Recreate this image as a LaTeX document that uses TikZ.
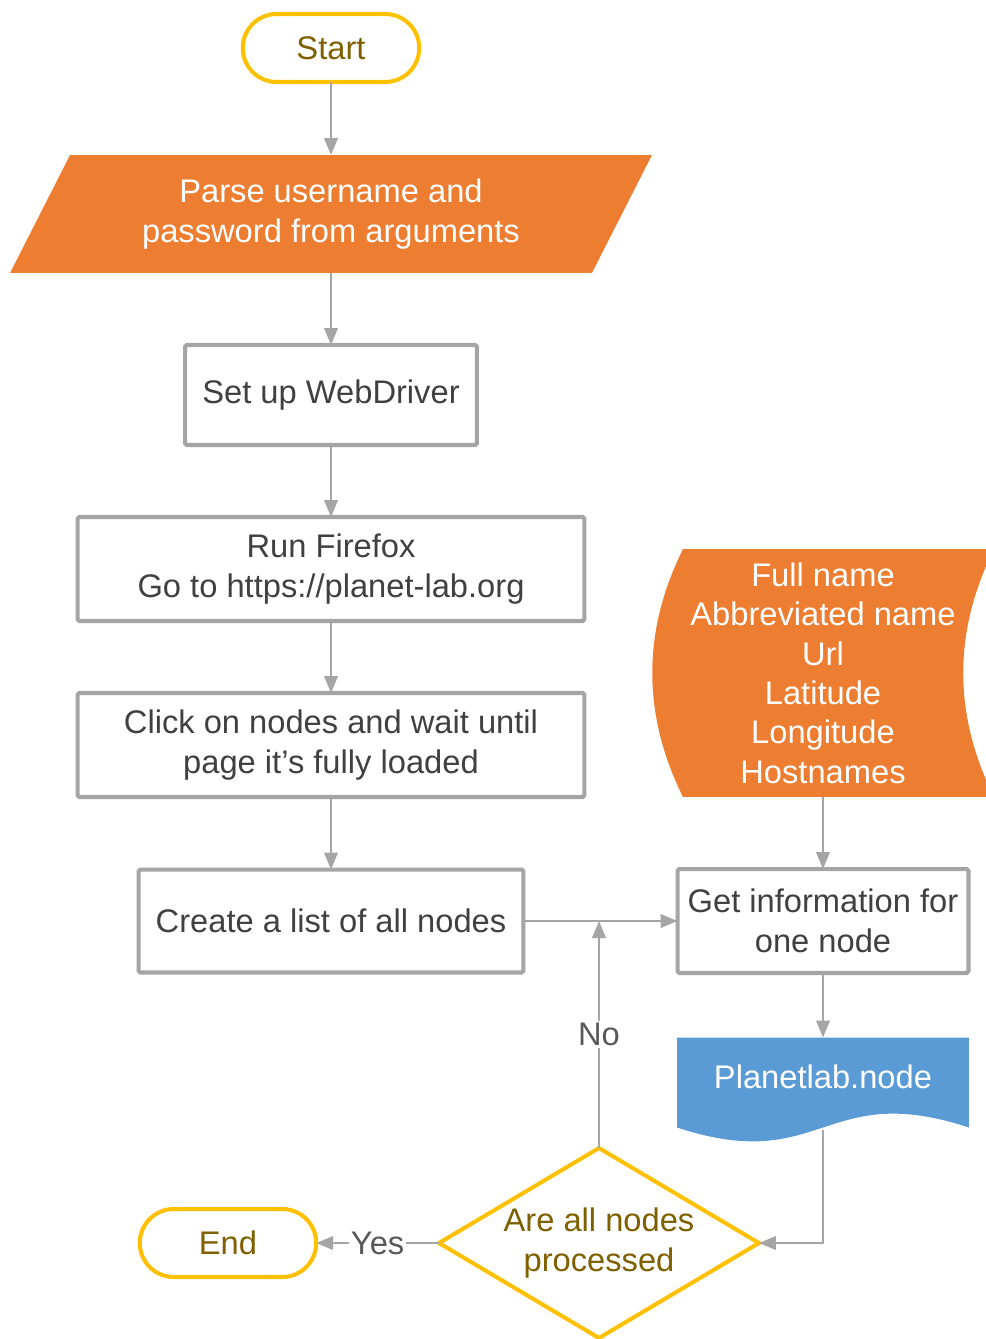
\documentclass[tikz,border=0pt]{standalone}
\usepackage{fontspec}
\setmainfont{Liberation Sans}
\usetikzlibrary{arrows.meta, shapes.geometric, calc}

\definecolor{flowOrange}{HTML}{ED7D31}
\definecolor{flowBlue}{HTML}{5B9BD5}
\definecolor{flowYellow}{HTML}{FFC000}
\definecolor{flowGold}{HTML}{7F6000}
\definecolor{flowGray}{HTML}{A5A5A5}
\definecolor{flowText}{HTML}{404040}
\definecolor{flowLabel}{HTML}{595959}

\begin{document}
\begin{tikzpicture}[x=0.02cm, y=-0.02cm,
    base/.style={inner sep=0pt, outer sep=0pt, align=center, font=\fontsize{18.6}{22.6}\selectfont},
    terminal/.style={base, draw=flowYellow, line width=2.3pt, rounded corners=0.68cm,
        minimum width=3.53cm, minimum height=1.36cm, text=flowGold},
    process/.style={base, draw=flowGray, line width=2.3pt, text=flowText, rounded corners=1pt},
    decision/.style={base, diamond, aspect=1.7, draw=flowYellow, line width=2.3pt, text=flowGold,
        minimum width=6.4cm, minimum height=3.8cm},
    inputbox/.style={base, text=white, minimum width=12.84cm, minimum height=2.36cm,
        path picture={\fill[flowOrange] (path picture bounding box.south west)
            -- ($(path picture bounding box.north west)+(1.2cm,0)$)
            -- (path picture bounding box.north east)
            -- ($(path picture bounding box.south east)+(-1.2cm,0)$) -- cycle;}},
    storedbox/.style={base, text=white, minimum width=6.84cm, minimum height=4.96cm,
        font=\fontsize{18.6}{22.4}\selectfont,
        path picture={\fill[flowOrange] ($(path picture bounding box.north west)+(0.62cm,0)$)
            -- (path picture bounding box.north east)
            .. controls ($(path picture bounding box.north east)+(-0.82cm,-1.65cm)$)
            and ($(path picture bounding box.south east)+(-0.82cm,1.65cm)$)
            .. (path picture bounding box.south east)
            -- ($(path picture bounding box.south west)+(0.62cm,0)$)
            .. controls ($(path picture bounding box.south west)+(-0.2cm,1.65cm)$)
            and ($(path picture bounding box.north west)+(-0.2cm,-1.65cm)$)
            .. cycle;}},
    docbox/.style={base, text=white, minimum width=5.84cm, text height=1.02cm, text depth=1.08cm,
        path picture={\fill[flowBlue] (path picture bounding box.north west)
            -- (path picture bounding box.north east)
            -- ($(path picture bounding box.south east)+(0,0.3cm)$)
            .. controls ($(path picture bounding box.south)+(0,1.26cm)$)
            and ($(path picture bounding box.south)+(0,-0.66cm)$)
            .. ($(path picture bounding box.south west)+(0,0.3cm)$) -- cycle;}},
    arr/.style={draw=flowGray, line width=1.4pt, -{Triangle[length=0.34cm, width=0.27cm]}},
    tag/.style={fill=white, inner sep=1pt, text=flowLabel, font=\fontsize{18.6}{22.6}\selectfont}]

\useasboundingbox (0,0) rectangle (986,1339);

\node[terminal] (start) at (331,48) {Start};
\node[inputbox] (parse) at (331,214) {Parse username and\\password from arguments};
\node[process, minimum width=5.84cm, minimum height=2.0cm] (setup) at (331,395) {Set up WebDriver};
\node[process, minimum width=10.14cm, minimum height=2.08cm] (firefox) at (331,569) {Run Firefox\\Go to https://planet-lab.org};
\node[process, minimum width=10.14cm, minimum height=2.08cm] (click) at (331,745) {Click on nodes and wait until\\page it’s fully loaded};
\node[process, minimum width=7.7cm, minimum height=2.06cm] (list) at (331,921) {Create a list of all nodes};

\node[storedbox] (data) at (823,673) {Full name\\Abbreviated name\\Url\\Latitude\\Longitude\\Hostnames};
\node[process, minimum width=5.82cm, minimum height=2.08cm] (info) at (823,921) {Get information for\\one node};
\node[docbox] (doc) at (823,1090) {Planetlab.node};
\coordinate (docwave) at ($(doc.south)+(0,0.26cm)$);

\node[decision] (check) at (599,1243) {Are all nodes\\processed};
\node[terminal] (stop) at (228,1243) {End};

\draw[arr] (start) -- (parse);
\draw[arr] (parse) -- (setup);
\draw[arr] (setup) -- (firefox);
\draw[arr] (firefox) -- (click);
\draw[arr] (click) -- (list);
\draw[arr] (list) -- (info);
\draw[arr] (data) -- (info);
\draw[arr] (info) -- (doc);
\draw[arr] (docwave) |- (check.east);
\draw[arr] (check.north) -- (list.east -| check.north) node[midway, tag] {No};
\draw[arr] (check) -- (stop) node[midway, tag] {Yes};

\end{tikzpicture}
\end{document}
